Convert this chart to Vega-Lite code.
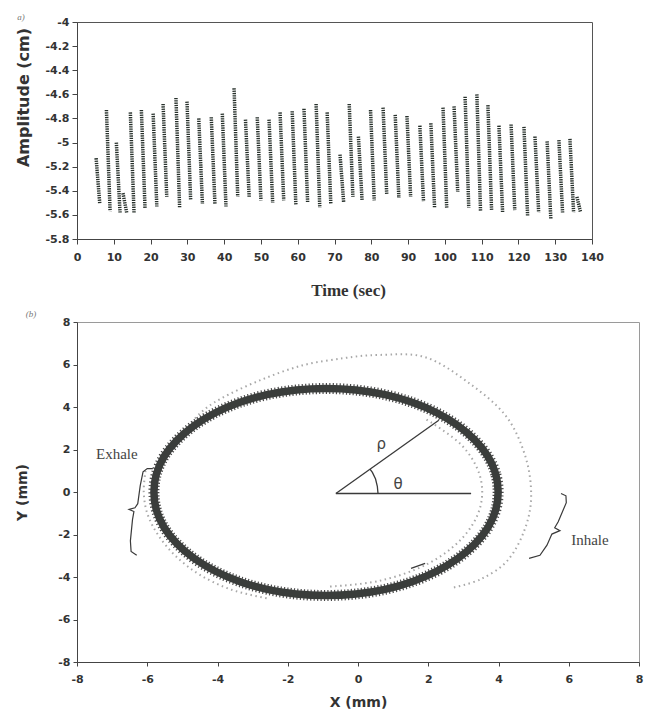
{
  "$schema": "https://vega.github.io/schema/vega-lite/v6.json",
  "background": "white",
  "padding": {"left": 14, "top": 12, "right": 0, "bottom": 0},
  "spacing": 10,
  "config": {
    "font": "DejaVu Sans",
    "view": {"stroke": "#555", "strokeWidth": 1},
    "axis": {
      "grid": false, "domainColor": "#444", "tickColor": "#444", "labelColor": "#333",
      "labelFont": "DejaVu Sans", "labelFontWeight": "bold", "labelFontSize": 11,
      "titleFont": "DejaVu Sans", "titleFontWeight": "bold", "titleColor": "#333",
      "labelOverlap": false, "labelBound": false
    }
  },
  "datasets": {
    "cycles": [
      {"t1": 5.2, "t2": 6.2, "hi": -5.13, "lo": -5.51},
      {"t1": 8.0, "t2": 9.0, "hi": -4.73, "lo": -5.57},
      {"t1": 10.7, "t2": 11.7, "hi": -5.0, "lo": -5.58},
      {"t1": 12.5, "t2": 13.5, "hi": -5.42, "lo": -5.58},
      {"t1": 14.5, "t2": 15.5, "hi": -4.75, "lo": -5.58},
      {"t1": 17.5, "t2": 18.5, "hi": -4.73, "lo": -5.55},
      {"t1": 20.7, "t2": 21.7, "hi": -4.76, "lo": -5.53},
      {"t1": 23.4, "t2": 24.4, "hi": -4.68, "lo": -5.45},
      {"t1": 26.9, "t2": 27.9, "hi": -4.63, "lo": -5.54},
      {"t1": 29.9, "t2": 30.9, "hi": -4.66, "lo": -5.48},
      {"t1": 33.1, "t2": 34.1, "hi": -4.8, "lo": -5.51},
      {"t1": 36.5, "t2": 37.5, "hi": -4.79, "lo": -5.51},
      {"t1": 39.5, "t2": 40.5, "hi": -4.76, "lo": -5.53},
      {"t1": 42.7, "t2": 43.7, "hi": -4.55, "lo": -5.45},
      {"t1": 45.8, "t2": 46.8, "hi": -4.81, "lo": -5.45},
      {"t1": 49.0, "t2": 50.0, "hi": -4.79, "lo": -5.48},
      {"t1": 52.2, "t2": 53.2, "hi": -4.81, "lo": -5.5},
      {"t1": 55.2, "t2": 56.2, "hi": -4.75, "lo": -5.48},
      {"t1": 58.5, "t2": 59.5, "hi": -4.74, "lo": -5.52},
      {"t1": 61.7, "t2": 62.7, "hi": -4.72, "lo": -5.5},
      {"t1": 65.0, "t2": 66.0, "hi": -4.68, "lo": -5.54},
      {"t1": 68.0, "t2": 69.0, "hi": -4.75, "lo": -5.51},
      {"t1": 71.5, "t2": 72.5, "hi": -5.1, "lo": -5.5},
      {"t1": 74.0, "t2": 75.0, "hi": -4.68, "lo": -5.45},
      {"t1": 76.5, "t2": 77.5, "hi": -4.95, "lo": -5.48},
      {"t1": 79.8, "t2": 80.8, "hi": -4.73, "lo": -5.48},
      {"t1": 83.2, "t2": 84.2, "hi": -4.71, "lo": -5.43},
      {"t1": 86.5, "t2": 87.5, "hi": -4.77, "lo": -5.46},
      {"t1": 89.7, "t2": 90.7, "hi": -4.78, "lo": -5.45},
      {"t1": 93.2, "t2": 94.2, "hi": -4.86, "lo": -5.49},
      {"t1": 96.2, "t2": 97.2, "hi": -4.84, "lo": -5.54},
      {"t1": 99.5, "t2": 100.5, "hi": -4.71, "lo": -5.54},
      {"t1": 102.5, "t2": 103.5, "hi": -4.7, "lo": -5.41},
      {"t1": 105.5, "t2": 106.5, "hi": -4.62, "lo": -5.54},
      {"t1": 108.7, "t2": 109.7, "hi": -4.6, "lo": -5.57},
      {"t1": 111.7, "t2": 112.7, "hi": -4.69, "lo": -5.56},
      {"t1": 114.7, "t2": 115.7, "hi": -4.86, "lo": -5.58},
      {"t1": 118.0, "t2": 119.0, "hi": -4.85, "lo": -5.56},
      {"t1": 121.5, "t2": 122.5, "hi": -4.87, "lo": -5.61},
      {"t1": 124.5, "t2": 125.5, "hi": -4.95, "lo": -5.58},
      {"t1": 127.8, "t2": 128.8, "hi": -4.99, "lo": -5.63},
      {"t1": 131.0, "t2": 132.0, "hi": -4.98, "lo": -5.58},
      {"t1": 134.0, "t2": 135.0, "hi": -4.97, "lo": -5.58},
      {"t1": 135.9, "t2": 136.9, "hi": -5.45, "lo": -5.58}
    ],
    "ring": [
      {"i": 0, "x": 3.99, "y": 0}, {"i": 1, "x": 3.92, "y": 0.85}, {"i": 2, "x": 3.7, "y": 1.67},
      {"i": 3, "x": 3.33, "y": 2.44}, {"i": 4, "x": 2.84, "y": 3.13}, {"i": 5, "x": 2.24, "y": 3.73},
      {"i": 6, "x": 1.54, "y": 4.22}, {"i": 7, "x": 0.77, "y": 4.58}, {"i": 8, "x": -0.06, "y": 4.8},
      {"i": 9, "x": -0.91, "y": 4.87}, {"i": 10, "x": -1.76, "y": 4.8}, {"i": 11, "x": -2.59, "y": 4.58},
      {"i": 12, "x": -3.36, "y": 4.22}, {"i": 13, "x": -4.06, "y": 3.73}, {"i": 14, "x": -4.66, "y": 3.13},
      {"i": 15, "x": -5.15, "y": 2.44}, {"i": 16, "x": -5.52, "y": 1.67}, {"i": 17, "x": -5.74, "y": 0.85},
      {"i": 18, "x": -5.81, "y": 0}, {"i": 19, "x": -5.74, "y": -0.85}, {"i": 20, "x": -5.52, "y": -1.67},
      {"i": 21, "x": -5.15, "y": -2.44}, {"i": 22, "x": -4.66, "y": -3.13}, {"i": 23, "x": -4.06, "y": -3.73},
      {"i": 24, "x": -3.36, "y": -4.22}, {"i": 25, "x": -2.59, "y": -4.58}, {"i": 26, "x": -1.76, "y": -4.8},
      {"i": 27, "x": -0.91, "y": -4.87}, {"i": 28, "x": -0.06, "y": -4.8}, {"i": 29, "x": 0.77, "y": -4.58},
      {"i": 30, "x": 1.54, "y": -4.22}, {"i": 31, "x": 2.24, "y": -3.73}, {"i": 32, "x": 2.84, "y": -3.13},
      {"i": 33, "x": 3.33, "y": -2.44}, {"i": 34, "x": 3.7, "y": -1.67}, {"i": 35, "x": 3.92, "y": -0.85}
    ],
    "faint": [
      {"g": "outer", "i": 0, "x": -4.9, "y": 2.9}, {"g": "outer", "i": 1, "x": -4.5, "y": 3.7},
      {"g": "outer", "i": 2, "x": -3.9, "y": 4.4}, {"g": "outer", "i": 3, "x": -2.8, "y": 5.25},
      {"g": "outer", "i": 4, "x": -1.6, "y": 5.95}, {"g": "outer", "i": 5, "x": -0.4, "y": 6.3},
      {"g": "outer", "i": 6, "x": 0.6, "y": 6.45}, {"g": "outer", "i": 7, "x": 1.9, "y": 6.35},
      {"g": "outer", "i": 8, "x": 3.1, "y": 5.2}, {"g": "outer", "i": 9, "x": 4.2, "y": 3.6},
      {"g": "outer", "i": 10, "x": 4.76, "y": 1.7}, {"g": "outer", "i": 11, "x": 4.93, "y": -0.15},
      {"g": "outer", "i": 12, "x": 4.76, "y": -1.7}, {"g": "outer", "i": 13, "x": 4.27, "y": -3.2},
      {"g": "outer", "i": 14, "x": 3.5, "y": -4.1}, {"g": "outer", "i": 15, "x": 2.7, "y": -4.5},
      {"g": "left", "i": 0, "x": -6.05, "y": 1.0}, {"g": "left", "i": 1, "x": -6.1, "y": 0},
      {"g": "left", "i": 2, "x": -6.0, "y": -1.0}, {"g": "left", "i": 3, "x": -5.7, "y": -2.0},
      {"g": "left", "i": 4, "x": -5.2, "y": -3.0}, {"g": "left", "i": 5, "x": -4.5, "y": -3.9},
      {"g": "left", "i": 6, "x": -3.6, "y": -4.6}, {"g": "left", "i": 7, "x": -2.6, "y": -5.0},
      {"g": "inner", "i": 0, "x": 1.95, "y": 3.41}, {"g": "inner", "i": 1, "x": 2.94, "y": 2.22},
      {"g": "inner", "i": 2, "x": 3.47, "y": 0.77}, {"g": "inner", "i": 3, "x": 3.47, "y": -0.77},
      {"g": "inner", "i": 4, "x": 2.94, "y": -2.22}, {"g": "inner", "i": 5, "x": 1.95, "y": -3.41},
      {"g": "inner", "i": 6, "x": 0.61, "y": -4.18}, {"g": "inner", "i": 7, "x": -0.8, "y": -4.45}
    ],
    "lines": [
      {"g": "rho", "i": 0, "x": -0.63, "y": -0.07}, {"g": "rho", "i": 1, "x": 2.3, "y": 3.38},
      {"g": "base", "i": 0, "x": -0.63, "y": -0.07}, {"g": "base", "i": 1, "x": 3.22, "y": -0.07},
      {"g": "arc", "i": 0, "x": 0.57, "y": -0.07}, {"g": "arc", "i": 1, "x": 0.55, "y": 0.27},
      {"g": "arc", "i": 2, "x": 0.5, "y": 0.61}, {"g": "arc", "i": 3, "x": 0.41, "y": 0.92},
      {"g": "arc", "i": 4, "x": 0.34, "y": 1.08},
      {"g": "seg", "i": 0, "x": 1.51, "y": -3.59}, {"g": "seg", "i": 1, "x": 1.91, "y": -3.36}
    ],
    "braces": [
      {"g": "exb", "i": 0, "x": -5.84, "y": 1.1}, {"g": "exb", "i": 1, "x": -6.0, "y": 1.1},
      {"g": "exb", "i": 2, "x": -6.12, "y": 0.95}, {"g": "exb", "i": 3, "x": -6.2, "y": 0.3},
      {"g": "exb", "i": 4, "x": -6.27, "y": -0.55}, {"g": "exb", "i": 5, "x": -6.35, "y": -0.74},
      {"g": "exb", "i": 6, "x": -6.52, "y": -0.82}, {"g": "exb", "i": 7, "x": -6.38, "y": -0.92},
      {"g": "exb", "i": 8, "x": -6.42, "y": -1.3}, {"g": "exb", "i": 9, "x": -6.48, "y": -2.3},
      {"g": "exb", "i": 10, "x": -6.46, "y": -2.8}, {"g": "exb", "i": 11, "x": -6.3, "y": -2.98},
      {"g": "inb", "i": 0, "x": 5.78, "y": -0.07}, {"g": "inb", "i": 1, "x": 5.92, "y": -0.18},
      {"g": "inb", "i": 2, "x": 5.93, "y": -0.5}, {"g": "inb", "i": 3, "x": 5.7, "y": -1.4},
      {"g": "inb", "i": 4, "x": 5.6, "y": -1.68}, {"g": "inb", "i": 5, "x": 5.75, "y": -1.82},
      {"g": "inb", "i": 6, "x": 5.52, "y": -1.98}, {"g": "inb", "i": 7, "x": 5.38, "y": -2.5},
      {"g": "inb", "i": 8, "x": 5.18, "y": -2.98}, {"g": "inb", "i": 9, "x": 4.87, "y": -3.12}
    ]
  },
  "vconcat": [
    {
      "width": 515,
      "height": 217,
      "encoding": {
        "x": {
          "field": "t1", "type": "quantitative",
          "scale": {"domain": [0, 140], "nice": false, "zero": false},
          "axis": {
            "title": "Time (sec)", "values": [0, 10, 20, 30, 40, 50, 60, 70, 80, 90, 100, 110, 120, 130, 140],
            "tickSize": 5, "labelPadding": 7, "labelFlush": false, "labelOverlap": false,
            "titleFont": "Liberation Serif", "titleFontSize": 17,
            "titleX": 271, "titleY": 51, "titleBaseline": "middle"
          }
        },
        "y": {
          "field": "hi", "type": "quantitative",
          "scale": {"domain": [-5.8, -4], "nice": false, "zero": false},
          "axis": {
            "title": "Amplitude (cm)",
            "values": [-5.8, -5.6, -5.4, -5.2, -5, -4.8, -4.6, -4.4, -4.2, -4],
            "labelExpr": "toString(round(datum.value*10)/10)",
            "tickSize": 5, "labelPadding": 3, "labelOverlap": false, "labelBound": false,
            "titleFontSize": 16, "titleX": -54, "titleY": 75,
            "titleBaseline": "middle", "titleAlign": "center"
          }
        }
      },
      "layer": [
        {
          "data": {"name": "cycles"},
          "mark": {"type": "rule", "strokeWidth": 3.5, "strokeDash": [1.3, 1.0], "color": "#27302b"},
          "encoding": {
            "x2": {"field": "t2"},
            "y2": {"field": "lo"}
          }
        },
        {
          "data": {"values": [{"t1": -15.2, "hi": -3.96, "label": "a)"}]},
          "mark": {"type": "text", "font": "Liberation Serif", "fontStyle": "italic", "fontSize": 9, "color": "#777"},
          "encoding": {
            "text": {"field": "label"}
          }
        }
      ]
    },
    {
      "width": 562,
      "height": 340,
      "view": {"stroke": "#9a9a9a"},
      "encoding": {
        "x": {
          "field": "x", "type": "quantitative",
          "scale": {"domain": [-8, 8], "nice": false, "zero": false},
          "axis": {
            "title": "X (mm)", "values": [-8, -6, -4, -2, 0, 2, 4, 6, 8],
            "labelExpr": "toString(round(datum.value))",
            "tickSize": 4, "labelPadding": 7, "labelFlush": false, "labelOverlap": false,
            "titleFontSize": 14, "titleY": 40, "titleBaseline": "middle"
          }
        },
        "y": {
          "field": "y", "type": "quantitative",
          "scale": {"domain": [-8, 8], "nice": false, "zero": false},
          "axis": {
            "title": "Y (mm)", "values": [-8, -6, -4, -2, 0, 2, 4, 6, 8],
            "labelExpr": "toString(round(datum.value))",
            "tickSize": 4, "labelPadding": 3, "labelOverlap": false, "labelBound": false,
            "titleFontSize": 14, "titleX": -55, "titleBaseline": "middle", "titleAlign": "center"
          }
        }
      },
      "layer": [
        {
          "data": {"name": "faint"},
          "mark": {"type": "line", "strokeWidth": 2, "strokeDash": [1.5, 3.5], "color": "#a8a8a8", "interpolate": "cardinal"},
          "encoding": {
            "detail": {"field": "g"},
            "order": {"field": "i", "type": "quantitative"}
          }
        },
        {
          "data": {"name": "ring"},
          "mark": {"type": "line", "strokeWidth": 11, "strokeDash": [1.2, 2.2], "color": "#4a4a4a", "interpolate": "cardinal-closed"},
          "encoding": {
            "order": {"field": "i", "type": "quantitative"}
          }
        },
        {
          "data": {"name": "ring"},
          "mark": {"type": "line", "strokeWidth": 7.5, "color": "#3a3d3b", "interpolate": "cardinal-closed"},
          "encoding": {
            "order": {"field": "i", "type": "quantitative"}
          }
        },
        {
          "data": {"name": "lines"},
          "mark": {"type": "line", "strokeWidth": 1.3, "color": "#3a3a3a"},
          "encoding": {
            "detail": {"field": "g"},
            "order": {"field": "i", "type": "quantitative"}
          }
        },
        {
          "data": {"name": "braces"},
          "mark": {"type": "line", "strokeWidth": 1.2, "color": "#3a3a3a", "interpolate": "linear"},
          "encoding": {
            "detail": {"field": "g"},
            "order": {"field": "i", "type": "quantitative"}
          }
        },
        {
          "data": {"values": [
            {"x": -7.46, "y": 1.81, "label": "Exhale"},
            {"x": 6.07, "y": -2.28, "label": "Inhale"}
          ]},
          "mark": {"type": "text", "font": "Liberation Serif", "fontSize": 15, "color": "#444", "align": "left", "baseline": "middle"},
          "encoding": {
            "text": {"field": "label"}
          }
        },
        {
          "data": {"values": [
            {"x": 0.66, "y": 2.28, "label": "ρ"},
            {"x": 1.14, "y": 0.4, "label": "θ"}
          ]},
          "mark": {"type": "text", "font": "DejaVu Sans", "fontSize": 15, "color": "#444", "align": "center", "baseline": "middle"},
          "encoding": {
            "text": {"field": "label"}
          }
        },
        {
          "data": {"values": [{"x": -9.31, "y": 8.38, "label": "(b)"}]},
          "mark": {"type": "text", "font": "Liberation Serif", "fontStyle": "italic", "fontSize": 9, "color": "#777"},
          "encoding": {
            "text": {"field": "label"}
          }
        }
      ]
    }
  ]
}
